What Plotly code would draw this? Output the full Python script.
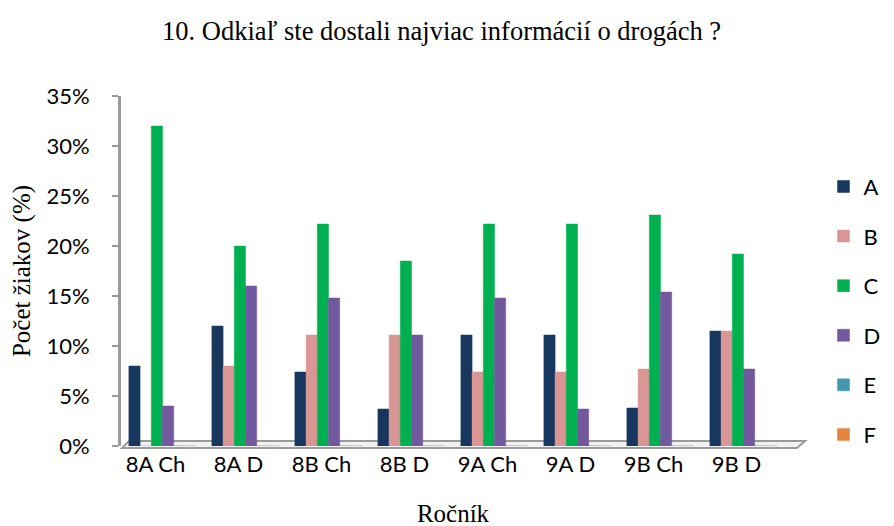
import plotly.graph_objects as go

categories = ["8A Ch", "8A D", "8B Ch", "8B D", "9A Ch", "9A D", "9B Ch", "9B D"]
A = [8.0, 12.0, 7.4, 3.7, 11.1, 11.1, 3.8, 11.5]
B = [0.0, 8.0, 11.1, 11.1, 7.4, 7.4, 7.7, 11.5]
C = [32.0, 20.0, 22.2, 18.5, 22.2, 22.2, 23.1, 19.2]
D = [4.0, 16.0, 14.8, 11.1, 14.8, 3.7, 15.4, 7.7]
E = [0, 0, 0, 0, 0, 0, 0, 0]
F = [0, 0, 0, 0, 0, 0, 0, 0]
series = {"A": A, "B": B, "C": C, "D": D, "E": E, "F": F}
colors = {"A": "#17375E", "B": "#D99694", "C": "#00B050", "D": "#72589C", "E": "#4198AF", "F": "#E2843E"}
ytickvals = [0, 5, 10, 15, 20, 25, 30, 35]
yticktext = ["0%", "5%", "10%", "15%", "20%", "25%", "30%", "35%"]

fig = go.Figure()
for name, vals in series.items():
    fig.add_trace(go.Bar(
        x=categories, y=vals, name=name, legendgroup=name,
        marker=dict(color=colors[name], line=dict(color=colors[name], width=0.5)),
    ))

W, H = 894, 526
L, R, T, B_ = 113, 117, 88, 88
pw, ph = W - L - R, H - T - B_

def px(x):
    return (x - L) / pw

def py(y):
    return (H - B_ - y) / ph

# 3D-looking floor
fig.add_shape(type="path",
              path=f"M {px(121)} {py(433)} L {px(797)} {py(433)} L {px(789)} {py(440)} L {px(114)} {py(440)} Z",
              xref="paper", yref="paper", line=dict(color="#9A9A9A", width=2),
              fillcolor="#F2F2F2", layer="below")

serif = "Liberation Serif"
sans = "Lato"
fig.update_layout(
    width=W, height=H,
    margin=dict(l=L, r=R, t=T, b=B_, autoexpand=False),
    paper_bgcolor="white", plot_bgcolor="white",
    barmode="group", bargap=0.19, bargroupgap=0.0,
    title=dict(text="10. Odkiaľ ste dostali najviac informácií o drogách ?",
               font=dict(family=serif, size=26.5, color="black"),
               x=0.485, xanchor="center", y=0.957, yanchor="middle"),
    xaxis=dict(title=dict(text="Ročník", font=dict(family=serif, size=25, color="black"), standoff=28),
               tickfont=dict(family=sans, size=22, color="black"),
               ticklabelshift=-7, ticklabelstandoff=3,
               showline=False, ticks="", showgrid=False, automargin=False),
    yaxis=dict(title=dict(text="Počet žiakov (%)", font=dict(family=serif, size=25, color="black"), standoff=22),
               range=[0, 35], tickvals=ytickvals, ticktext=yticktext,
               tickfont=dict(family=sans, size=22, color="black"),
               showline=True, linecolor="#9A9A9A", linewidth=3,
               ticks="outside", ticklen=6, tickcolor="#9A9A9A", tickwidth=2,
               ticklabelstandoff=18, automargin=False,
               showgrid=False, zeroline=False),
    legend=dict(x=1.058, y=0.801, xanchor="left", yanchor="top",
                font=dict(family=sans, size=22, color="black"),
                tracegroupgap=18, itemwidth=30),
)

fig.write_html("out.html")
